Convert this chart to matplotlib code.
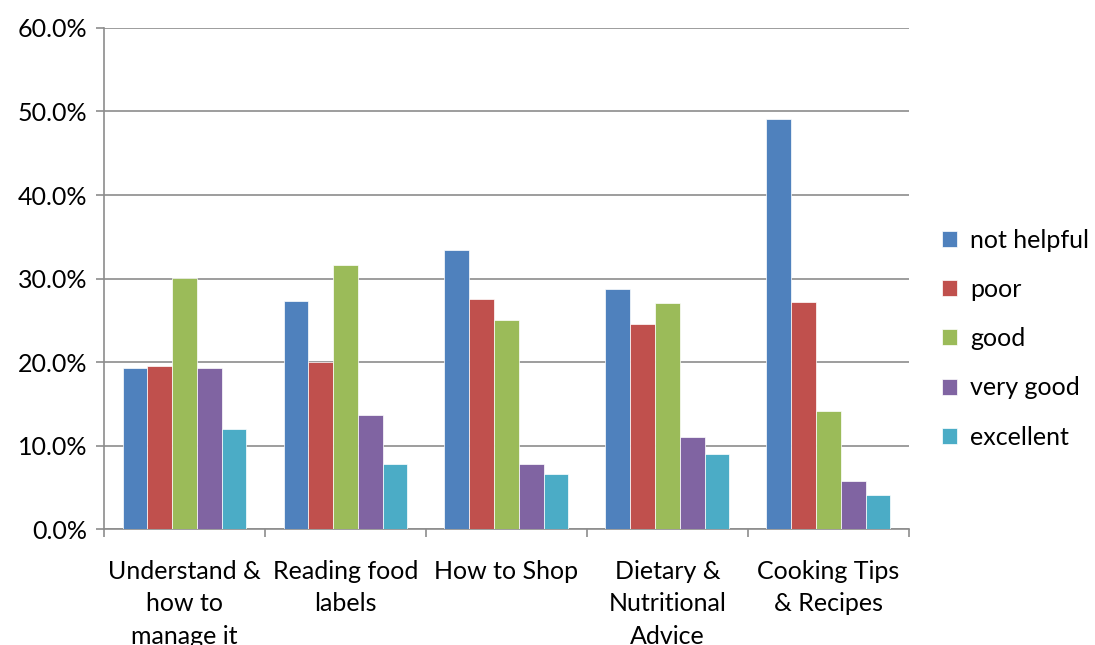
import matplotlib
matplotlib.use("Agg")
import matplotlib.pyplot as plt
import numpy as np
from matplotlib.ticker import PercentFormatter, FixedLocator

categories = ["Understand &\nhow to\nmanage it", "Reading food\nlabels", "How to Shop",
              "Dietary &\nNutritional\nAdvice", "Cooking Tips\n& Recipes"]
series_names = ["not helpful", "poor", "good", "very good", "excellent"]
not_helpful = [19.3, 27.3, 33.4, 28.7, 49.1]
poor = [19.5, 20.0, 27.5, 24.5, 27.2]
good = [30.1, 31.6, 25.0, 27.1, 14.1]
very_good = [19.3, 13.6, 7.8, 11.0, 5.7]
excellent = [12.0, 7.8, 6.6, 9.0, 4.1]
values = [not_helpful, poor, good, very_good, excellent]
colors = ["#4F81BD", "#C0504D", "#9BBB59", "#8064A2", "#4BACC6"]

plt.rcParams['font.family'] = ['Lato', 'DejaVu Sans']

fig = plt.figure(figsize=(10.95, 6.45), dpi=100)
ax = fig.add_axes([0.095, 0.1798, 0.735, 0.7768])

x = np.arange(len(categories))
w = 0.154
for i, (name, vals, c) in enumerate(zip(series_names, values, colors)):
    ax.bar(x + (i - 2) * w, vals, width=w, color=c, label=name,
           edgecolor='white', linewidth=0.5, zorder=3)

ax.set_xlim(-0.5, len(categories) - 0.5)
ax.set_ylim(0, 60)
ax.set_yticks(np.arange(0, 61, 10))
ax.yaxis.set_major_formatter(PercentFormatter(decimals=1))
ax.grid(axis='y', color='#8c8c8c', linewidth=1.2, zorder=0)

fs = 18
ax.set_xticks(x)
ax.set_xticklabels(categories, fontsize=fs, linespacing=1.5)
ax.xaxis.set_minor_locator(FixedLocator(np.arange(-0.5, len(categories), 1)))
ax.tick_params(axis='x', which='major', length=0, pad=22)
ax.tick_params(axis='x', which='minor', length=6, color='#8c8c8c', width=1.2)
ax.tick_params(axis='y', length=6, color='#8c8c8c', width=1.2, labelsize=fs, pad=6)

for s in ['top', 'right']:
    ax.spines[s].set_visible(False)
for s in ['left', 'bottom']:
    ax.spines[s].set_color('#8c8c8c')
    ax.spines[s].set_linewidth(1.2)

leg = ax.legend(loc='center left', bbox_to_anchor=(1.02, 0.38), frameon=False,
                fontsize=fs, handlelength=0.6, handleheight=0.6,
                handletextpad=0.5, labelspacing=1.05, borderaxespad=0.3)

fig.savefig("out.png", dpi=100)
